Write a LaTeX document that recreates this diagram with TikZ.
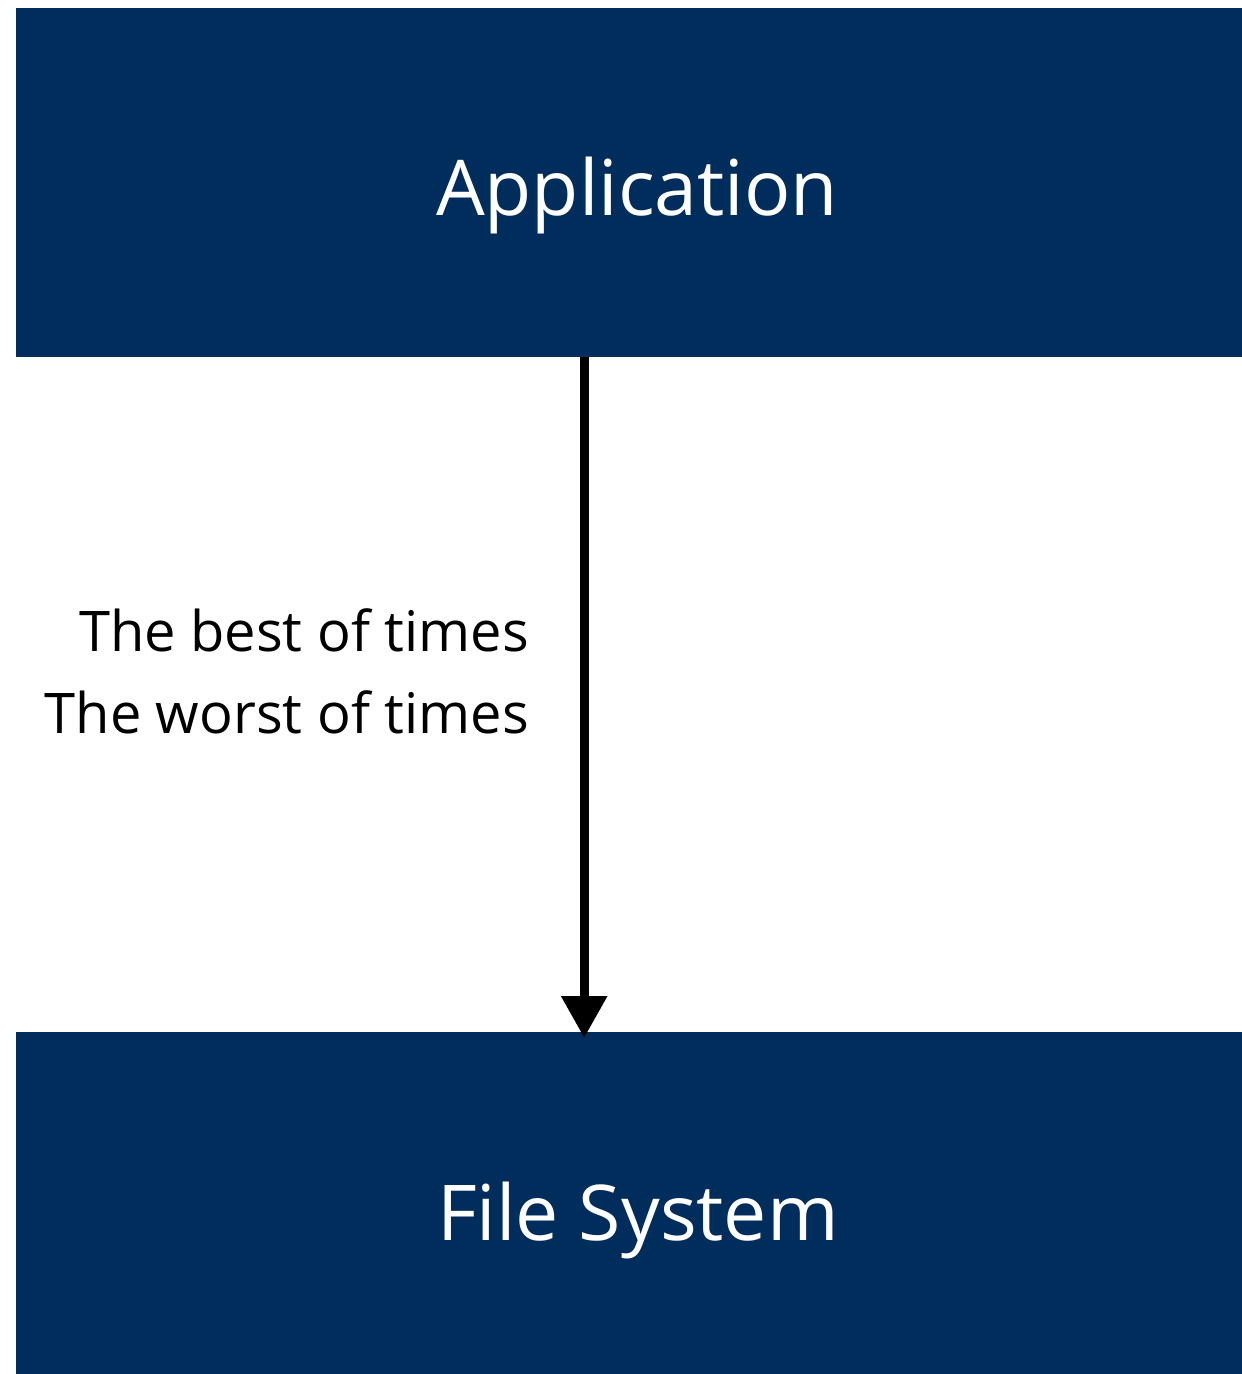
\documentclass[tikz,border=0pt]{standalone}
\usepackage{fontspec}
\setmainfont{Open Sans}
\usetikzlibrary{arrows.meta}
\definecolor{boxblue}{RGB}{0,45,92}
\begin{document}
\begin{tikzpicture}[x=1pt,y=-1pt,
  layerbox/.style={fill=boxblue, draw=none, inner sep=0pt},
  boxtext/.style={text=white, inner sep=0pt, anchor=base, font=\fontsize{77}{80}\selectfont},
  flow/.style={line width=9pt, -{Triangle[width=44pt,length=42pt]}, shorten >=-6pt},
  label/.style={font=\fontsize{56}{60}\selectfont, inner sep=0pt, anchor=base east}]
\useasboundingbox (0,0) rectangle (1242,1374);
\node[layerbox, minimum width=1226pt, minimum height=349pt, anchor=north west] (app) at (16,8) {};
\node[layerbox, minimum width=1226pt, minimum height=342pt, anchor=north west] (fs) at (16,1032) {};
\node[boxtext] (apptext) at (637,215) {Application};
\node[boxtext] (fstext) at (638,1240) {File System};
\draw[flow] ([xshift=-45pt]app.south) -- ([xshift=-45pt]fs.north);
\node[label] (lbl1) at (529,651) {The best of times};
\node[label] (lbl2) at (529,733) {The worst of times};
\end{tikzpicture}
\end{document}
